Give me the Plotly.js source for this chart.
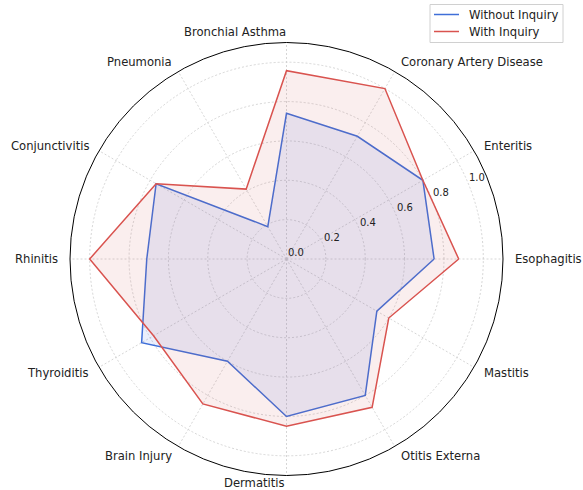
<!DOCTYPE html>
<html>
<head>
<meta charset="utf-8">
<script src="https://cdn.plot.ly/plotly-3.0.1.min.js"></script>
<style>html,body{margin:0;padding:0;background:#fff;}#chart{width:583px;height:490px;}</style>
</head>
<body>
<div id="chart"></div>
<script>
const categories = ["Esophagitis", "Enteritis", "Coronary Artery Disease", "Bronchial Asthma", "Pneumonia", "Conjunctivitis", "Rhinitis", "Thyroiditis", "Brain Injury", "Dermatitis", "Otitis Externa", "Mastitis"];
const withoutInquiry = [0.75, 0.80, 0.72, 0.74, 0.19, 0.765, 0.71, 0.85, 0.60, 0.80, 0.80, 0.53];
const withInquiry = [0.875, 0.80, 1.00, 0.957, 0.41, 0.765, 1.00, 0.78, 0.85, 0.85, 0.87, 0.60];
const seriesNames = ["Without Inquiry", "With Inquiry"];
const seriesColors = ["#3f6fd8", "#d9534f"];
const radialTicks = [0, 0.2, 0.4, 0.6, 0.8, 1.0];
const radialTickText = ["0.0", "0.2", "0.4", "0.6", "0.8", "1.0"];

const W = 583, H = 490;
const M = {l: 70, r: 80, t: 42, b: 14};
const plotW = W - M.l - M.r, plotH = H - M.t - M.b;
const R = Math.min(plotW, plotH) / 2;   // polar radius in px
const rMax = 1.1;
const labelAngle = 22.5;

const close = a => a.concat([a[0]]);
const theta = close(categories);

const traces = [
  {type: "scatterpolar", r: close(withoutInquiry), theta: theta, mode: "lines", name: seriesNames[0],
   line: {color: seriesColors[0], width: 1.5}, fill: "toself", fillcolor: "rgba(65,105,225,0.11)"},
  {type: "scatterpolar", r: close(withInquiry), theta: theta, mode: "lines", name: seriesNames[1],
   line: {color: seriesColors[1], width: 1.5}, fill: "toself", fillcolor: "rgba(205,92,92,0.1)"}
];

function toPaper(rpx, deg) {
  const a = deg * Math.PI / 180;
  return {x: 0.5 + rpx * Math.cos(a) / plotW, y: 0.5 + rpx * Math.sin(a) / plotH};
}
const px = x => (x - M.l) / plotW;
const py = y => (H - M.b - y) / plotH;

const annotations = [];
categories.forEach((c, i) => {
  const deg = i * 360 / categories.length;
  const p = toPaper(R + 10.5, deg);
  const right = (deg > -90 && deg < 90) || deg > 270;
  annotations.push({xref: "paper", yref: "paper", x: p.x, y: p.y + (deg === 270 ? 3 / plotH : 0), text: c, showarrow: false,
    xanchor: right ? "left" : "right", yanchor: "middle", font: {size: 11.6, color: "#222"}, borderpad: 0});
});
radialTicks.forEach((v, i) => {
  const p = toPaper(v / rMax * R, labelAngle);
  annotations.push({xref: "paper", yref: "paper", x: p.x, y: p.y, text: radialTickText[i], showarrow: false,
    xanchor: "left", yanchor: "bottom", font: {size: 10, color: "#222"}, borderpad: 0});
});

// legend box (matplotlib-style)
const shapes = [{type: "rect", xref: "paper", yref: "paper", x0: px(430), x1: px(563), y0: py(4.5), y1: py(42.5),
  line: {color: "#d0d0d0", width: 1}, fillcolor: "rgba(255,255,255,0.8)", layer: "above"}];
const legendRows = [14.5, 31.5];
seriesNames.forEach((n, i) => {
  shapes.push({type: "line", xref: "paper", yref: "paper", x0: px(434), x1: px(459), y0: py(legendRows[i]), y1: py(legendRows[i]),
    line: {color: seriesColors[i], width: 1.5}, layer: "above"});
  annotations.push({xref: "paper", yref: "paper", x: px(468), y: py(legendRows[i]), text: n, showarrow: false,
    xanchor: "left", yanchor: "middle", font: {size: 11.6, color: "#222"}, borderpad: 0});
});

const gridStyle = {showgrid: true, gridcolor: "#cccccc", gridwidth: 0.8, griddash: "2px,2px"};

const layout = {
  width: W, height: H,
  margin: Object.assign({autoexpand: false, pad: 0}, M),
  paper_bgcolor: "#fff",
  font: {family: "DejaVu Sans", size: 11.5, color: "#222"},
  showlegend: false,
  annotations: annotations,
  shapes: shapes,
  polar: {
    bgcolor: "rgba(0,0,0,0)",
    domain: {x: [0, 1], y: [0, 1]},
    angularaxis: Object.assign({
      type: "category", categoryarray: categories, categoryorder: "array",
      rotation: 0, direction: "counterclockwise",
      showline: true, linecolor: "#000", linewidth: 1,
      ticks: "", showticklabels: false
    }, gridStyle),
    radialaxis: Object.assign({
      range: [0, rMax], tickvals: radialTicks, ticktext: radialTickText,
      angle: labelAngle, showline: false, ticks: "", showticklabels: false
    }, gridStyle)
  }
};

Plotly.newPlot("chart", traces, layout, {displayModeBar: false, staticPlot: true});
</script>
</body>
</html>
